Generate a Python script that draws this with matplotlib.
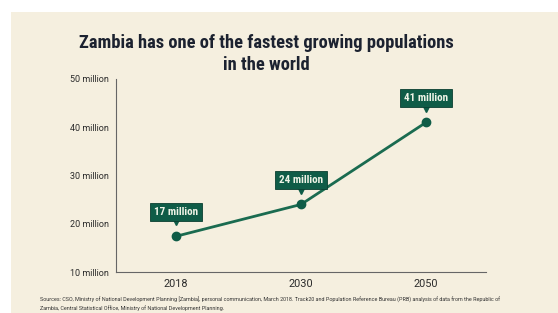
import matplotlib.pyplot as plt
from matplotlib import font_manager
from matplotlib.patches import Rectangle
from matplotlib.transforms import offset_copy

# data
years = ["2018", "2030", "2050"]
population = [17.4, 24, 41]  # millions
point_labels = ["17 million", "24 million", "41 million"]
y_ticks = [10, 20, 30, 40, 50]
y_tick_labels = ["10 million", "20 million", "30 million", "40 million", "50 million"]

title = "Zambia has one of the fastest growing populations\nin the world"
source = ("Sources: CSO, Ministry of National Development Planning [Zambia], personal communication, "
          "March 2018. Track20 and Population Reference Bureau (PRB) analysis of data from the Republic of\n"
          "Zambia, Central Statistical Office, Ministry of National Development Planning.")

bg = "#f5efdf"
green = "#0f5c47"
line_green = "#1a6b50"
text_dark = "#1c2230"

names = {f.name for f in font_manager.fontManager.ttflist}
cond = [n for n in ["Roboto Condensed", "Liberation Sans Narrow"] if n in names]
head_font = cond + ["Roboto", "DejaVu Sans"]

fig = plt.figure(figsize=(5.58, 3.13), dpi=100)
fig.patch.set_facecolor(bg)
# white strips at the top and the left of the picture
fig.add_artist(Rectangle((0, 1 - 12 / 313), 1, 12 / 313, transform=fig.transFigure,
                         facecolor="white", edgecolor="none"))
fig.add_artist(Rectangle((0, 0), 11 / 558, 1, transform=fig.transFigure,
                         facecolor="white", edgecolor="none"))

ax = fig.add_axes([116 / 558, 1 - 272 / 313, 370 / 558, 193 / 313])
ax.set_facecolor("none")

x = list(range(len(years)))
ax.plot(x, population, color=line_green, lw=2, zorder=3)
ax.plot(x, population, "o", color=green, ms=6, zorder=4)

# label boxes with little pointer under them
for xi, yi, lab in zip(x, population, point_labels):
    ax.annotate(lab, xy=(xi, yi), xytext=(0, 14), textcoords="offset points",
                ha="center", va="bottom", fontsize=8, fontweight="bold",
                family=head_font, color="#eef3e6", zorder=6,
                bbox=dict(boxstyle="square,pad=0.38", fc=green, ec="#0a3f31", lw=0.6))
    tr = offset_copy(ax.transData, fig=fig, x=0, y=10, units="points")
    ax.plot(xi, yi, marker="v", ms=5, color=green, transform=tr, zorder=5,
            clip_on=False)

ax.set_xlim(-0.48, 2.48)
ax.set_ylim(10, 50)
ax.set_xticks(x)
ax.set_xticklabels(years)
ax.set_yticks(y_ticks)
ax.set_yticklabels(y_tick_labels)
ax.tick_params(length=0, pad=5, colors="#2b2b2b")
for t in ax.get_yticklabels():
    t.set_fontsize(6.5)
    t.set_family("Roboto")
for t in ax.get_xticklabels():
    t.set_fontsize(7.8)
    t.set_family("Roboto")
for s in ["top", "right"]:
    ax.spines[s].set_visible(False)
for s in ["left", "bottom"]:
    ax.spines[s].set_color("#666666")
    ax.spines[s].set_linewidth(0.8)

fig.text(0.477, 1 - 54 / 313, title, ha="center", va="center",
         fontsize=13.3, fontweight="bold", color=text_dark,
         family=head_font, linespacing=1.25)

fig.text(40 / 558, 1 - 304 / 313, source, ha="left", va="center",
         fontsize=3.9, color="#333333", family="Roboto", linespacing=1.35)

fig.savefig("out.png", dpi=100, facecolor=fig.get_facecolor())
